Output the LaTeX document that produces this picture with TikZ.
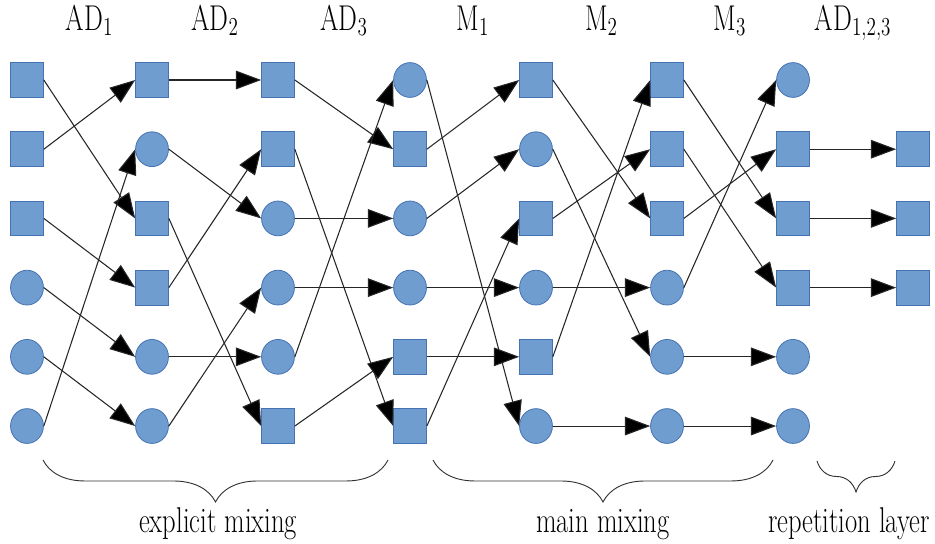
\documentclass[tikz,border=0pt]{standalone}
\usetikzlibrary{arrows.meta,shapes.geometric,decorations.pathreplacing}

\definecolor{nodefill}{RGB}{112,157,208}
\definecolor{nodeline}{RGB}{68,114,178}
\newcommand{\tallbox}[1]{\scalebox{1}[1.35]{\fontsize{20}{23}\selectfont #1}}

\tikzset{
  sqnode/.style={draw=nodeline, fill=nodefill, line width=0.6pt,
    minimum width=0.87cm, minimum height=0.92cm, inner sep=0pt},
  cinode/.style={ellipse, draw=nodeline, fill=nodefill, line width=0.6pt,
    minimum width=0.87cm, minimum height=0.92cm, inner sep=0pt},
  arr/.style={-{Triangle[length=19pt,width=14pt,fill=black]}, line width=0.8pt, black!85},
  brc/.style={decorate, decoration={brace, mirror, amplitude=#1}, line width=0.7pt, black!80},
}

\begin{document}
\begin{tikzpicture}
    \useasboundingbox (0,0) rectangle (24.738,14.367);

    % Layers of blocks
    \foreach \c/\x/\kinds in {0/0.714/{sqnode,sqnode,sqnode,cinode,cinode,cinode},
                              1/4.022/{sqnode,cinode,sqnode,sqnode,cinode,cinode},
                              2/7.355/{sqnode,sqnode,cinode,cinode,cinode,sqnode},
                              3/10.848/{cinode,sqnode,cinode,cinode,sqnode,sqnode},
                              4/14.181/{sqnode,cinode,sqnode,cinode,sqnode,cinode},
                              5/17.648/{sqnode,sqnode,sqnode,cinode,cinode,cinode},
                              6/20.981/{cinode,sqnode,sqnode,sqnode,cinode,cinode}}
        \foreach \k [count=\r] in \kinds
            \node[\k] (n\c\r) at (\x, {12.25-(\r-1)*1.831}) {};

    % Repetition layer
    \foreach \r in {2,3,4}
        \node[sqnode] (n7\r) at (24.156, {12.25-(\r-1)*1.831}) {};

    % Connections between layers
    \foreach \c/\a/\b in {0/1/3, 0/2/1, 0/3/4, 0/4/5, 0/5/6, 0/6/2,
                          1/1/1, 1/2/3, 1/3/6, 1/4/2, 1/5/5, 1/6/4,
                          2/1/2, 2/2/6, 2/3/3, 2/4/4, 2/5/1, 2/6/5,
                          3/1/6, 3/2/1, 3/3/2, 3/4/4, 3/5/5, 3/6/3,
                          4/1/3, 4/2/5, 4/3/2, 4/4/4, 4/5/1, 4/6/6,
                          5/1/3, 5/2/4, 5/3/2, 5/4/1, 5/5/5, 5/6/6,
                          6/2/2, 6/3/3, 6/4/4} {
        \pgfmathtruncatemacro{\d}{\c+1}
        \draw[arr] (n\c\a.east) -- (n\d\b.west);
    }

    % Round labels
    \foreach \x/\lab [count=\i] in {2.368/AD$_1$, 5.689/AD$_2$, 9.10/AD$_3$,
                                    12.51/M$_1$, 15.91/M$_2$, 19.31/M$_3$,
                                    22.57/{AD$_{1,2,3}$}}
        \node[anchor=base] (h\i) at (\x, 13.57) {\tallbox{\lab}};

    % Braces
    \draw[brc=1.11cm] (1.138,2.196) -- (10.266,2.196);
    \draw[brc=1.11cm] (11.456,2.196) -- (20.452,2.196);
    \draw[brc=0.82cm] (21.616,2.17) -- (23.68,2.17);

    \node[anchor=base] (t1) at (5.77,0.29) {\tallbox{explicit mixing}};
    \node[anchor=base] (t2) at (15.95,0.29) {\tallbox{main mixing}};
    \node[anchor=base] (t3) at (22.46,0.29) {\tallbox{repetition layer}};
\end{tikzpicture}
\end{document}
